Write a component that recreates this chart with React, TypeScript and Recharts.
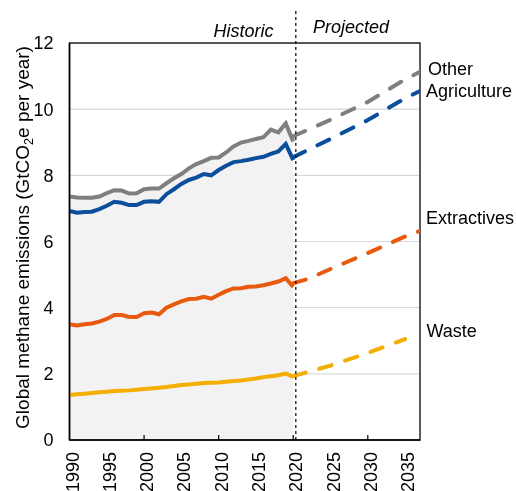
import React from "react";
import {
  ComposedChart,
  Line,
  Area,
  XAxis,
  YAxis,
  CartesianGrid,
  ReferenceLine,
  ReferenceArea,
} from "recharts";

const histYears = [
  1990, 1991, 1992, 1993, 1994, 1995, 1996, 1997, 1998, 1999, 2000, 2001, 2002,
  2003, 2004, 2005, 2006, 2007, 2008, 2009, 2010, 2011, 2012, 2013, 2014, 2015,
  2016, 2017, 2018, 2019, 2020,
];
const otherHist = [
  7.36, 7.33, 7.32, 7.32, 7.36, 7.46, 7.55, 7.54, 7.45, 7.46, 7.58, 7.6, 7.6,
  7.76, 7.91, 8.04, 8.21, 8.34, 8.43, 8.53, 8.54, 8.69, 8.87, 8.99, 9.04, 9.1,
  9.15, 9.38, 9.3, 9.57, 9.02,
];
const agriHist = [
  6.92, 6.87, 6.89, 6.9, 6.98, 7.08, 7.2, 7.17, 7.1, 7.1, 7.2, 7.22, 7.2, 7.43,
  7.58, 7.74, 7.86, 7.93, 8.04, 8.0, 8.16, 8.29, 8.4, 8.43, 8.47, 8.52, 8.56,
  8.65, 8.72, 8.95, 8.46,
];
const extrHist = [
  3.5, 3.46, 3.5, 3.52, 3.58, 3.66, 3.78, 3.78, 3.72, 3.72, 3.83, 3.85, 3.8, 4.0,
  4.1, 4.19, 4.26, 4.27, 4.33, 4.27, 4.39, 4.5, 4.58, 4.59, 4.63, 4.64, 4.68,
  4.73, 4.79, 4.89, 4.63,
];
const wasteHist = [
  1.36, 1.38, 1.4, 1.42, 1.44, 1.46, 1.48, 1.49, 1.5, 1.52, 1.54, 1.56, 1.58,
  1.6, 1.63, 1.66, 1.68, 1.7, 1.72, 1.73, 1.74, 1.76, 1.78, 1.8, 1.83, 1.86,
  1.9, 1.93, 1.96, 2.01, 1.91,
];

const projYears = [2020, 2022, 2025, 2030, 2035, 2037];
const otherProj = [9.18, 9.38, 9.68, 10.22, 10.9, 11.13];
const agriProj = [8.55, 8.77, 9.1, 9.67, 10.33, 10.55];
const extrProj = [4.74, 4.87, 5.17, 5.65, 6.15, 6.32];
const wasteProj = [1.93, 2.06, 2.25, 2.63, 3.05, null];

const xTicks = [1990, 1995, 2000, 2005, 2010, 2015, 2020, 2025, 2030, 2035];
const yTicks = [0, 2, 4, 6, 8, 10, 12];

const seriesNames = ["Other", "Agriculture", "Extractives", "Waste"];

const COLORS = {
  other: "#7f7f7f",
  agri: "#0b4f9c",
  extr: "#e85a0e",
  waste: "#f4ae00",
};

type Row = { year: number; [k: string]: number | null | undefined };

const rowsMap = new Map<number, Row>();
const getRow = (y: number) => {
  if (!rowsMap.has(y)) rowsMap.set(y, { year: y });
  return rowsMap.get(y)!;
};
histYears.forEach((y, i) => {
  const r = getRow(y);
  r.otherHist = otherHist[i];
  r.agriHist = agriHist[i];
  r.extrHist = extrHist[i];
  r.wasteHist = wasteHist[i];
});
projYears.forEach((y, i) => {
  const r = getRow(y);
  r.otherProj = otherProj[i];
  r.agriProj = agriProj[i];
  r.extrProj = extrProj[i];
  r.wasteProj = wasteProj[i];
});
const data = Array.from(rowsMap.values()).sort((a, b) => a.year - b.year);

const FONT = "'Liberation Sans', Arial, sans-serif";

const XTick = (props: any) => {
  const { x, y, payload } = props;
  const v = payload.value;
  return (
    <g>
      {v % 10 === 0 && v !== 1990 && (
        <line x1={x} x2={x} y1={y} y2={y - 5} stroke="#000" strokeWidth={1.2} />
      )}
      <text
        transform={`translate(${x + 9},${y + 12}) rotate(-90)`}
        textAnchor="end"
        fontSize={18}
        fontFamily={FONT}
        fill="#000"
      >
        {v}
      </text>
    </g>
  );
};

const YTitle = () => (
  <text
    transform="translate(29,237.5) rotate(-90)"
    textAnchor="middle"
    fontSize={19}
    fontFamily={FONT}
    fill="#000"
  >
    <tspan>Global methane emissions (GtCO</tspan>
    <tspan fontSize={12.5} dy={4}>
      2
    </tspan>
    <tspan dy={-4}>e per year)</tspan>
  </text>
);

export default function App() {
  const sw = 4;
  const dash = "13 14";
  return (
    <div style={{ position: "fixed", left: 0, top: 0, width: 516, height: 491 }}>
      <ComposedChart
        width={516}
        height={491}
        data={data}
        margin={{ top: 43, right: 96, bottom: 1, left: 19.5 }}
      >
        <CartesianGrid horizontal vertical={false} stroke="#d9d9d9" strokeWidth={1.2} />
        <XAxis
          dataKey="year"
          type="number"
          domain={[1990, 2037]}
          ticks={xTicks}
          interval={0}
          height={50}
          tickSize={0}
          tickMargin={0}
          tickLine={false}
          axisLine={{ stroke: "#000", strokeWidth: 1.5 }}
          tick={<XTick />}
          allowDataOverflow
        />
        <YAxis
          type="number"
          domain={[0, 12]}
          ticks={yTicks}
          width={50}
          tickSize={0}
          tickMargin={16}
          tickLine={false}
          axisLine={{ stroke: "#000", strokeWidth: 1.5 }}
          tick={{ fontSize: 18, fill: "#000", fontFamily: FONT }}
          allowDataOverflow
        />
        <Area
          dataKey="otherHist"
          type="linear"
          stroke="none"
          fill="#f2f2f2"
          fillOpacity={1}
          baseValue={0}
          isAnimationActive={false}
        />
        <Line dataKey="wasteHist" name={seriesNames[3]} type="linear" stroke={COLORS.waste} strokeWidth={sw} dot={false} isAnimationActive={false} />
        <Line dataKey="extrHist" name={seriesNames[2]} type="linear" stroke={COLORS.extr} strokeWidth={sw} dot={false} isAnimationActive={false} />
        <Line dataKey="agriHist" name={seriesNames[1]} type="linear" stroke={COLORS.agri} strokeWidth={sw} dot={false} isAnimationActive={false} />
        <Line dataKey="otherHist" name={seriesNames[0]} type="linear" stroke={COLORS.other} strokeWidth={sw} dot={false} isAnimationActive={false} />
        <Line dataKey="wasteProj" type="linear" stroke={COLORS.waste} strokeWidth={sw} strokeDasharray={dash} strokeLinecap="round" dot={false} connectNulls isAnimationActive={false} />
        <Line dataKey="extrProj" type="linear" stroke={COLORS.extr} strokeWidth={sw} strokeDasharray={dash} strokeLinecap="round" dot={false} connectNulls isAnimationActive={false} />
        <Line dataKey="agriProj" type="linear" stroke={COLORS.agri} strokeWidth={sw} strokeDasharray={dash} strokeLinecap="round" dot={false} connectNulls isAnimationActive={false} />
        <Line dataKey="otherProj" type="linear" stroke={COLORS.other} strokeWidth={sw} strokeDasharray={dash} strokeLinecap="round" dot={false} connectNulls isAnimationActive={false} />
        <ReferenceLine
          segment={[
            { x: 2020.35, y: 0 },
            { x: 2020.35, y: 13 },
          ]}
          stroke="#000"
          strokeWidth={1.2}
          strokeDasharray="3 3"
          ifOverflow="visible"
        />
        <ReferenceArea
          x1={1990}
          x2={2037}
          y1={0}
          y2={12}
          fill="none"
          fillOpacity={0}
          stroke="#262626"
          strokeWidth={1.5}
          ifOverflow="visible"
        />
        <YTitle />
        <text x={243.5} y={37} textAnchor="middle" fontSize={18} fontStyle="italic" fontFamily={FONT} fill="#000">
          Historic
        </text>
        <text x={351} y={33} textAnchor="middle" fontSize={18} fontStyle="italic" fontFamily={FONT} fill="#000">
          Projected
        </text>
        <text x={428} y={75} fontSize={18} fontFamily={FONT} fill="#000">
          {seriesNames[0]}
        </text>
        <text x={426} y={97} fontSize={18} fontFamily={FONT} fill="#000">
          {seriesNames[1]}
        </text>
        <text x={426} y={224} fontSize={18} fontFamily={FONT} fill="#000">
          {seriesNames[2]}
        </text>
        <text x={426.5} y={336.5} fontSize={18} fontFamily={FONT} fill="#000">
          {seriesNames[3]}
        </text>
      </ComposedChart>
    </div>
  );
}
